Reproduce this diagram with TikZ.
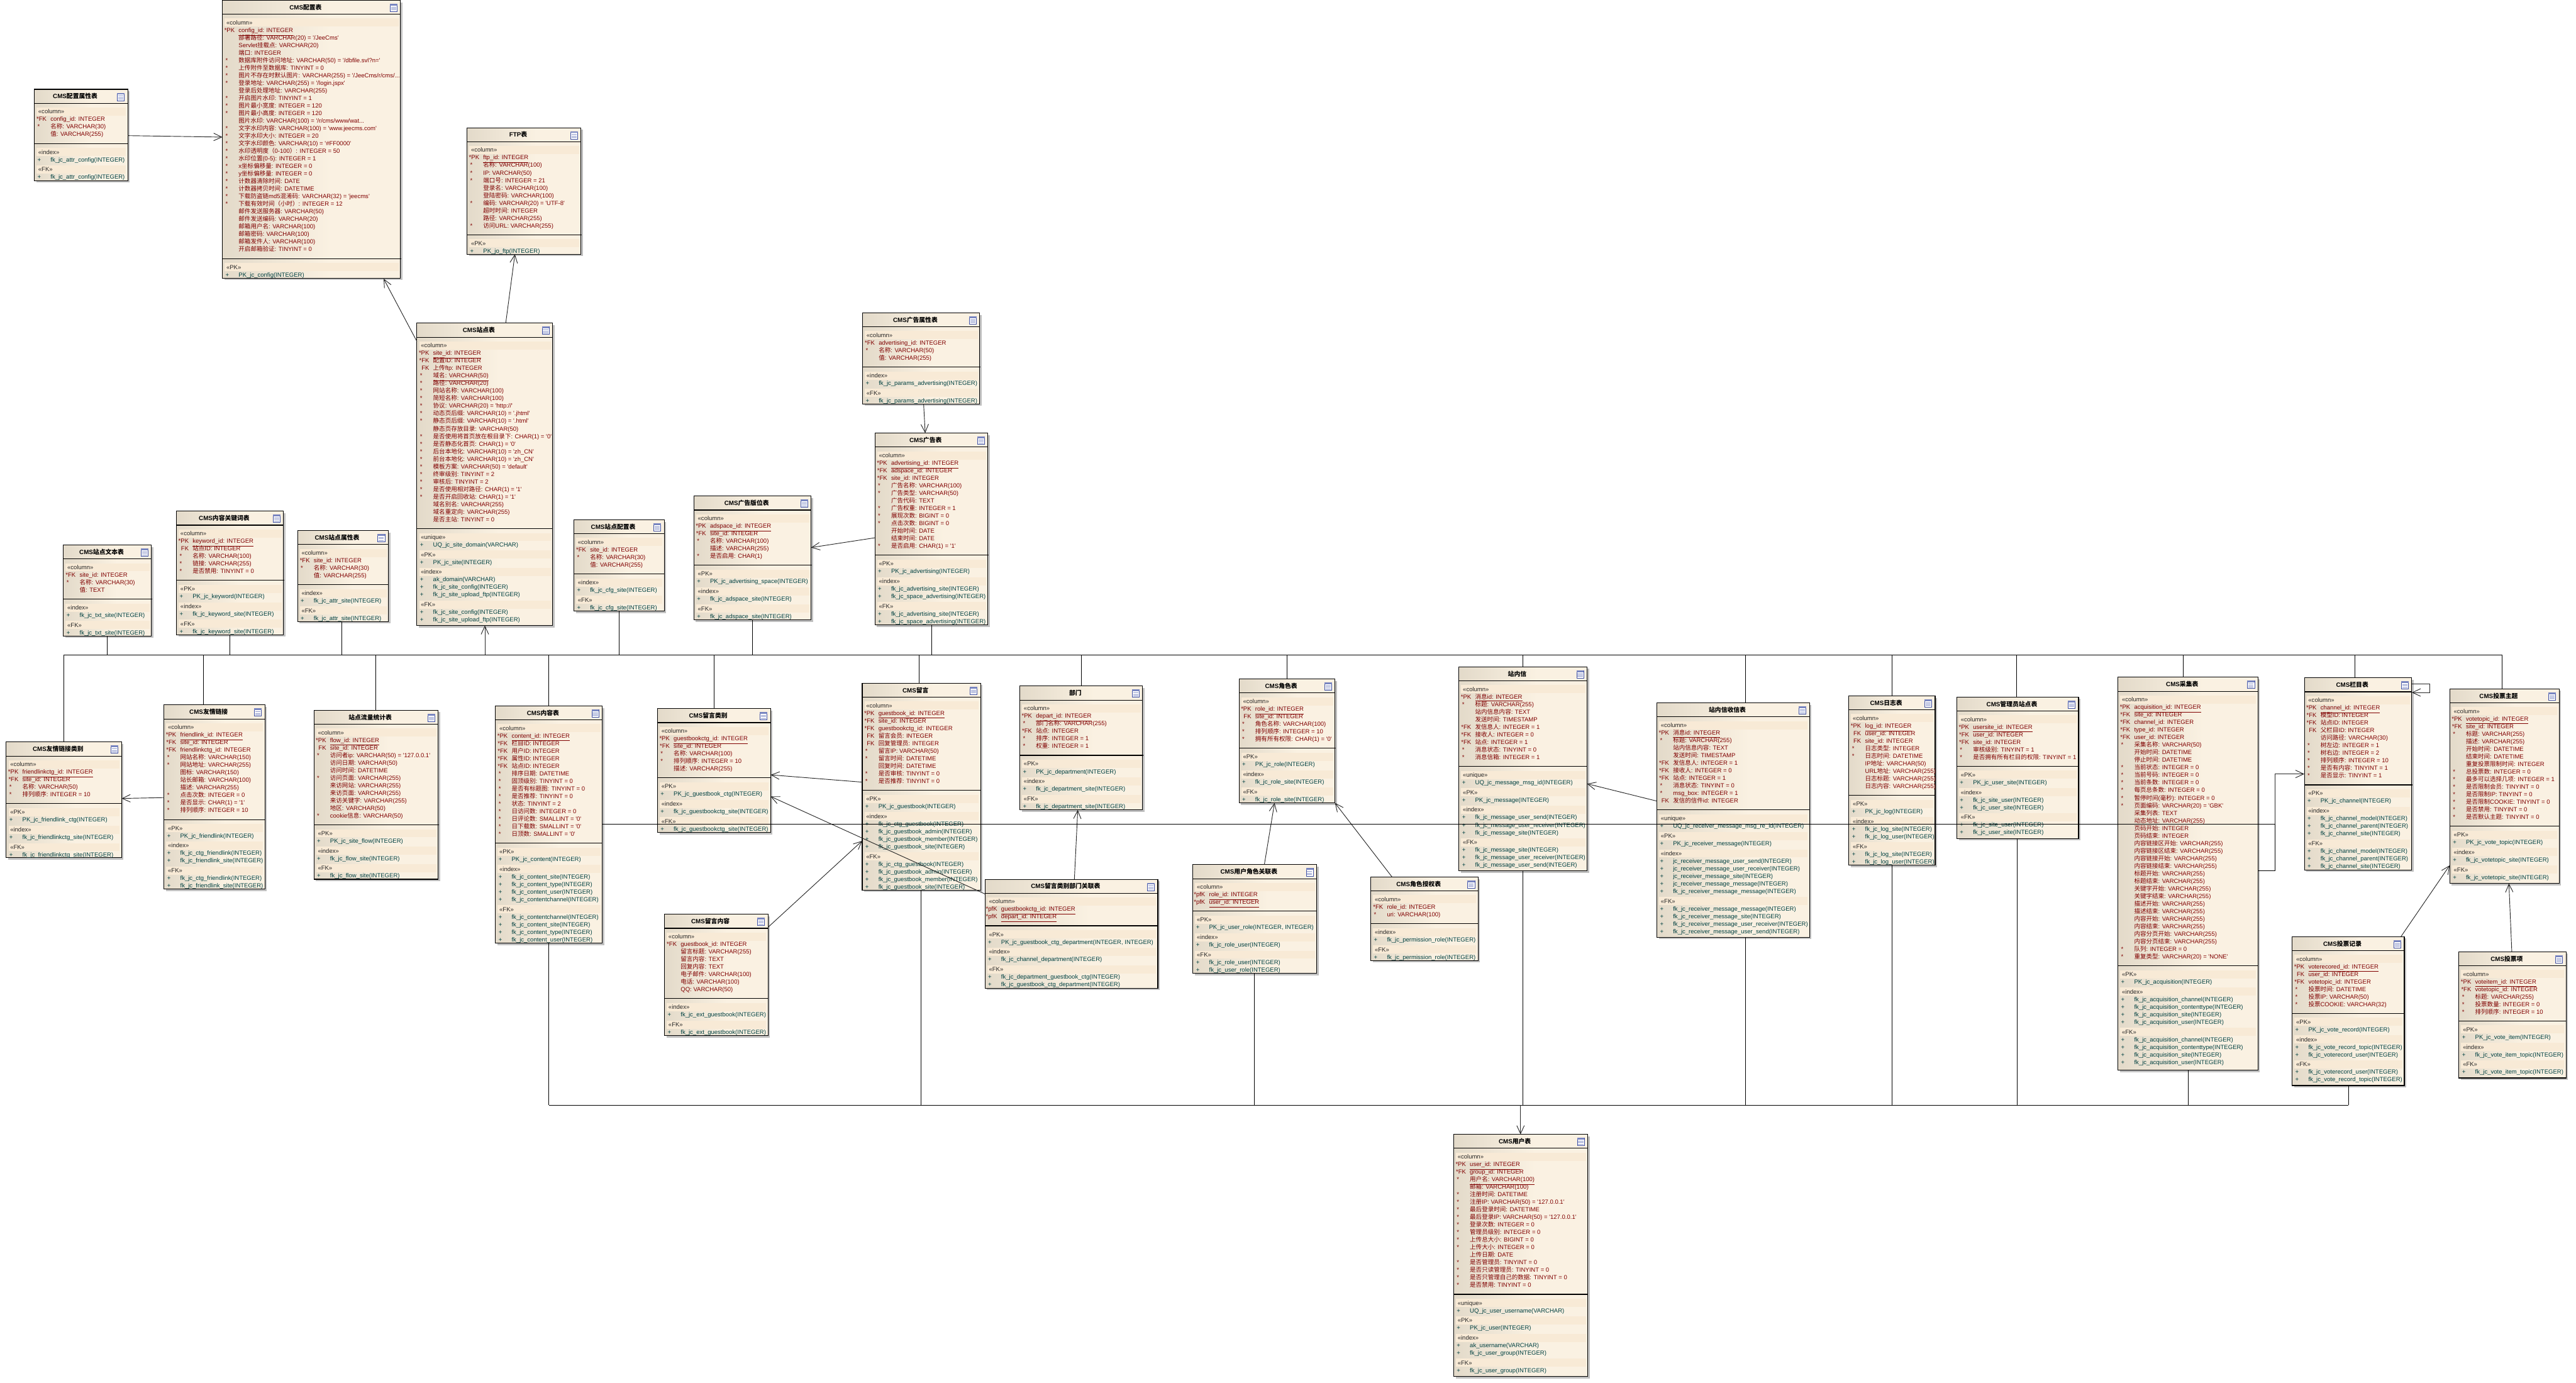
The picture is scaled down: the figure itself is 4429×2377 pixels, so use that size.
\documentclass[tikz,border=0pt]{standalone}
\usepackage{fontspec}
\usetikzlibrary{arrows.meta, shadows}
\setmainfont{Liberation Sans}[Ligatures=TeXOff]
\newfontfamily\cjkfont{Noto Sans CJK SC}
\XeTeXinterchartokenstate=1
\newcount\cjkc
\cjkc="3000 \loop \XeTeXcharclass\cjkc=250 \advance\cjkc 1 \ifnum\cjkc<"3040 \repeat
\cjkc="4E00 \loop \XeTeXcharclass\cjkc=250 \advance\cjkc 1 \ifnum\cjkc<"A000 \repeat
\cjkc="FF00 \loop \XeTeXcharclass\cjkc=250 \advance\cjkc 1 \ifnum\cjkc<"FFF0 \repeat
\XeTeXinterchartoks 0 250={\cjkfont}
\XeTeXinterchartoks 4095 250={\cjkfont}
\XeTeXinterchartoks 250 0={\rmfamily}
\XeTeXinterchartoks 4095 0={\rmfamily}
\definecolor{coltxt}{RGB}{128,0,0}
\definecolor{idxtxt}{RGB}{0,64,64}
\definecolor{bandfill}{RGB}{248,234,214}
\definecolor{shadowgray}{RGB}{192,192,192}
\definecolor{iconblue}{RGB}{62,80,165}
\pgfdeclarehorizontalshading{tableshade}{100bp}{rgb(0bp)=(0.89,0.855,0.79); rgb(25bp)=(0.89,0.855,0.79); rgb(55bp)=(0.98,0.945,0.885); rgb(100bp)=(0.98,0.945,0.885)}
\newcommand{\tablefont}{\fontsize{5.15pt}{6.5pt}\selectfont}
\newcount\rowno
\newcommand{\tbl}[6]{%
    \def\tblname{#1}\def\tblx{#2}\def\tblw{#4}\pgfmathsetmacro\rowy{#3+21.3}%
    \node[tablebox, minimum width=#4*0.5pt, minimum height=#5*0.5pt] (#1) at (#2,#3) {};
    \node[tabletitle] (#1-title) at ([shift={(-10,12)}]#1.north) {#6};
    \draw[tableline] ([yshift=-12pt]#1.north west) -- ([yshift=-12pt]#1.north east);
    \node[tableicon] (#1-icon) at ([shift={(-5.5,6)}]#1.north east) {};
    \fill[iconblue!70] (#1-icon.north west) rectangle ([shift={(0,3)}]#1-icon.north east);
    \foreach \k in {5.5,8,10.5} \draw[iconrule] ([shift={(2,\k)}]#1-icon.north west) -- ([shift={(-2,\k)}]#1-icon.north east);
}
\newcommand{\nextrow}{\pgfmathsetmacro\rowy{\rowy+13}\global\advance\rowno 1 }
\newcommand{\rowtext}[1]{\node[coltext] (\tblname-\the\rowno) at (\tblx+27.5,\rowy+3.7) {#1};}
\newcommand{\stereo}[1]{\pgfmathsetmacro\rowy{\rowy+17}\global\advance\rowno 1
    \node[stereoband, text width=\tblw*0.5pt-6.5pt] (\tblname-\the\rowno) at (\tblx+3.5,\rowy) {«#1»};}
\newcommand{\sepline}{\draw[tableline] (\tblx,\rowy+15.7) -- (\tblx+\tblw+1,\rowy+15.7); \pgfmathsetmacro\rowy{\rowy+13.4}}
\newcommand{\keyrow}[2]{\nextrow\node[keymark] (\tblname-m\the\rowno) at (\tblx+21.5,\rowy+3.7) {#1}; \rowtext{\underline{#2}}}
\newcommand{\fkrow}[2]{\nextrow\node[keymark] (\tblname-m\the\rowno) at (\tblx+21.5,\rowy+3.7) {#1}; \rowtext{#2}}
\newcommand{\reqrow}[1]{\nextrow\node[starmark] (\tblname-m\the\rowno) at (\tblx+5,\rowy+3.7) {*}; \rowtext{#1}}
\newcommand{\ulrow}[1]{\reqrow{\underline{#1}}}
\newcommand{\optrow}[1]{\nextrow\rowtext{#1}}
\newcommand{\idxrow}[1]{\nextrow\node[idxtext] (\tblname-m\the\rowno) at (\tblx+5,\rowy+3.7) {+}; \node[idxtext] (\tblname-\the\rowno) at (\tblx+27.5,\rowy+3.7) {#1};}
\catcode`\_=12
\begin{document}
\begin{tikzpicture}[
    x=0.5pt, y=-0.5pt,
    tablebox/.style={rectangle, draw=black, line width=0.6pt, shading=tableshade, anchor=north west, inner sep=0pt, outer sep=0pt, general shadow={fill=shadowgray, shadow xshift=1.7pt, shadow yshift=-1.7pt}},
    tabletitle/.style={font=\fontsize{5.3pt}{6.5pt}\selectfont\bfseries, inner sep=0pt},
    tableline/.style={draw=black, line width=0.6pt},
    tableicon/.style={rectangle, draw=iconblue, fill=white, line width=0.4pt, anchor=north east, inner sep=0pt, minimum width=6pt, minimum height=6.5pt},
    iconrule/.style={draw=iconblue!60, line width=0.3pt},
    stereoband/.style={rectangle, fill=bandfill, anchor=west, align=left, font=\tablefont, text=black!85, inner xsep=1.5pt, inner ysep=0pt, text height=5.35pt, text depth=1.65pt},
    coltext/.style={anchor=base west, inner sep=0pt, font=\tablefont, text=coltxt},
    keymark/.style={anchor=base east, inner sep=0pt, font=\tablefont, text=coltxt},
    starmark/.style={anchor=base west, inner sep=0pt, font=\tablefont, text=coltxt},
    idxtext/.style={anchor=base west, inner sep=0pt, font=\tablefont, text=idxtxt},
    bus/.style={draw=black, line width=0.5pt},
    fk/.style={->, >={Straight Barb[length=7pt,width=6.5pt]}, draw=black!85, line width=0.5pt}
]
\useasboundingbox (0,0) rectangle (4429,2377);

\tbl{cfgattr}{59}{153.6}{160.6}{156.8}{CMS配置属性表}
\stereo{column}
\fkrow{*FK}{config_id:  INTEGER}
\reqrow{名称:  VARCHAR(30)}
\optrow{值:  VARCHAR(255)}
\sepline
\stereo{index}
\idxrow{fk_jc_attr_config(INTEGER)}
\stereo{FK}
\idxrow{fk_jc_attr_config(INTEGER)}

\tbl{cfg}{382.4}{0.5}{306}{477.7}{CMS配置表}
\stereo{column}
\keyrow{*PK}{config_id:  INTEGER}
\optrow{部署路径:  VARCHAR(20) = '/JeeCms'}
\optrow{Servlet挂载点:  VARCHAR(20)}
\optrow{端口:  INTEGER}
\reqrow{数据库附件访问地址:  VARCHAR(50) = '/dbfile.svl?n='}
\reqrow{上传附件至数据库:  TINYINT = 0}
\reqrow{图片不存在时默认图片:  VARCHAR(255) = '/JeeCms/r/cms/...}
\reqrow{登录地址:  VARCHAR(255) = '/login.jspx'}
\optrow{登录后处理地址:  VARCHAR(255)}
\reqrow{开启图片水印:  TINYINT = 1}
\reqrow{图片最小宽度:  INTEGER = 120}
\reqrow{图片最小高度:  INTEGER = 120}
\optrow{图片水印:  VARCHAR(100) = '/r/cms/www/wat...}
\reqrow{文字水印内容:  VARCHAR(100) = 'www.jeecms.com'}
\reqrow{文字水印大小:  INTEGER = 20}
\reqrow{文字水印颜色:  VARCHAR(10) = '\#FF0000'}
\reqrow{水印透明度（0-100）:  INTEGER = 50}
\reqrow{水印位置(0-5):  INTEGER = 1}
\reqrow{x坐标偏移量:  INTEGER = 0}
\reqrow{y坐标偏移量:  INTEGER = 0}
\reqrow{计数器清除时间:  DATE}
\reqrow{计数器拷贝时间:  DATETIME}
\reqrow{下载防盗链md5混淆码:  VARCHAR(32) = 'jeecms'}
\reqrow{下载有效时间（小时）:  INTEGER = 12}
\optrow{邮件发送服务器:  VARCHAR(50)}
\optrow{邮件发送编码:  VARCHAR(20)}
\optrow{邮箱用户名:  VARCHAR(100)}
\optrow{邮箱密码:  VARCHAR(100)}
\optrow{邮箱发件人:  VARCHAR(100)}
\optrow{开启邮箱验证:  TINYINT = 0}
\sepline
\stereo{PK}
\idxrow{PK_jc_config(INTEGER)}

\tbl{ftp}{803}{219.6}{196}{217.4}{FTP表}
\stereo{column}
\keyrow{*PK}{ftp_id:  INTEGER}
\reqrow{名称:  VARCHAR(100)}
\reqrow{IP:  VARCHAR(50)}
\reqrow{端口号:  INTEGER = 21}
\optrow{登录名:  VARCHAR(100)}
\optrow{登陆密码:  VARCHAR(100)}
\reqrow{编码:  VARCHAR(20) = 'UTF-8'}
\optrow{超时时间:  INTEGER}
\optrow{路径:  VARCHAR(255)}
\reqrow{访问URL:  VARCHAR(255)}
\sepline
\stereo{PK}
\idxrow{PK_jo_ftp(INTEGER)}

\tbl{site}{716.8}{555.7}{233.1}{519.7}{CMS站点表}
\stereo{column}
\keyrow{*PK}{site_id:  INTEGER}
\fkrow{*FK}{配置ID:  INTEGER}
\fkrow{FK}{上传ftp:  INTEGER}
\ulrow{域名:  VARCHAR(50)}
\reqrow{路径:  VARCHAR(20)}
\reqrow{网站名称:  VARCHAR(100)}
\reqrow{简短名称:  VARCHAR(100)}
\reqrow{协议:  VARCHAR(20) = 'http://'}
\reqrow{动态页后缀:  VARCHAR(10) = '.jhtml'}
\reqrow{静态页后缀:  VARCHAR(10) = '.html'}
\optrow{静态页存放目录:  VARCHAR(50)}
\reqrow{是否使用将首页放在根目录下:  CHAR(1) = '0'}
\reqrow{是否静态化首页:  CHAR(1) = '0'}
\reqrow{后台本地化:  VARCHAR(10) = 'zh_CN'}
\reqrow{前台本地化:  VARCHAR(10) = 'zh_CN'}
\reqrow{模板方案:  VARCHAR(50) = 'default'}
\reqrow{终审级别:  TINYINT = 2}
\reqrow{审核后:  TINYINT = 2}
\reqrow{是否使用相对路径:  CHAR(1) = '1'}
\reqrow{是否开启回收站:  CHAR(1) = '1'}
\optrow{域名别名:  VARCHAR(255)}
\optrow{域名重定向:  VARCHAR(255)}
\optrow{是否主站:  TINYINT = 0}
\sepline
\stereo{unique}
\idxrow{UQ_jc_site_domain(VARCHAR)}
\stereo{PK}
\idxrow{PK_jc_site(INTEGER)}
\stereo{index}
\idxrow{ak_domain(VARCHAR)}
\idxrow{fk_jc_site_config(INTEGER)}
\idxrow{fk_jc_site_upload_ftp(INTEGER)}
\stereo{FK}
\idxrow{fk_jc_site_config(INTEGER)}
\idxrow{fk_jc_site_upload_ftp(INTEGER)}

\tbl{sitecfg}{986.7}{893.6}{155.3}{156.8}{CMS站点配置表}
\stereo{column}
\fkrow{*FK}{site_id:  INTEGER}
\reqrow{名称:  VARCHAR(30)}
\optrow{值:  VARCHAR(255)}
\sepline
\stereo{index}
\idxrow{fk_jc_cfg_site(INTEGER)}
\stereo{FK}
\idxrow{fk_jc_cfg_site(INTEGER)}

\tbl{adspace}{1193}{852.9}{201.5}{212.8}{CMS广告版位表}
\stereo{column}
\keyrow{*PK}{adspace_id:  INTEGER}
\fkrow{*FK}{site_id:  INTEGER}
\reqrow{名称:  VARCHAR(100)}
\optrow{描述:  VARCHAR(255)}
\reqrow{是否启用:  CHAR(1)}
\sepline
\stereo{PK}
\idxrow{PK_jc_advertising_space(INTEGER)}
\stereo{index}
\idxrow{fk_jc_adspace_site(INTEGER)}
\stereo{FK}
\idxrow{fk_jc_adspace_site(INTEGER)}

\tbl{adattr}{1483}{537.9}{201.5}{156.4}{CMS广告属性表}
\stereo{column}
\fkrow{*FK}{advertising_id:  INTEGER}
\reqrow{名称:  VARCHAR(50)}
\optrow{值:  VARCHAR(255)}
\sepline
\stereo{index}
\idxrow{fk_jc_params_advertising(INTEGER)}
\stereo{FK}
\idxrow{fk_jc_params_advertising(INTEGER)}

\tbl{ad}{1504.3}{744.6}{194.2}{329.7}{CMS广告表}
\stereo{column}
\keyrow{*PK}{advertising_id:  INTEGER}
\fkrow{*FK}{adspace_id:  INTEGER}
\fkrow{*FK}{site_id:  INTEGER}
\reqrow{广告名称:  VARCHAR(100)}
\reqrow{广告类型:  VARCHAR(50)}
\optrow{广告代码:  TEXT}
\reqrow{广告权重:  INTEGER = 1}
\reqrow{展现次数:  BIGINT = 0}
\reqrow{点击次数:  BIGINT = 0}
\optrow{开始时间:  DATE}
\optrow{结束时间:  DATE}
\reqrow{是否启用:  CHAR(1) = '1'}
\sepline
\stereo{PK}
\idxrow{PK_jc_advertising(INTEGER)}
\stereo{index}
\idxrow{fk_jc_advertising_site(INTEGER)}
\idxrow{fk_jc_space_advertising(INTEGER)}
\stereo{FK}
\idxrow{fk_jc_advertising_site(INTEGER)}
\idxrow{fk_jc_space_advertising(INTEGER)}

\tbl{sitetxt}{109}{937}{151.5}{156.3}{CMS站点文本表}
\stereo{column}
\fkrow{*FK}{site_id:  INTEGER}
\reqrow{名称:  VARCHAR(30)}
\optrow{值:  TEXT}
\sepline
\stereo{index}
\idxrow{fk_jc_txt_site(INTEGER)}
\stereo{FK}
\idxrow{fk_jc_txt_site(INTEGER)}

\tbl{keyword}{303.4}{878.9}{184.1}{212.4}{CMS内容关键词表}
\stereo{column}
\keyrow{*PK}{keyword_id:  INTEGER}
\fkrow{FK}{站点ID:  INTEGER}
\reqrow{名称:  VARCHAR(100)}
\reqrow{链接:  VARCHAR(255)}
\reqrow{是否禁用:  TINYINT = 0}
\sepline
\stereo{PK}
\idxrow{PK_jc_keyword(INTEGER)}
\stereo{index}
\idxrow{fk_jc_keyword_site(INTEGER)}
\stereo{FK}
\idxrow{fk_jc_keyword_site(INTEGER)}

\tbl{siteattr}{511.6}{912.2}{156}{156.2}{CMS站点属性表}
\stereo{column}
\fkrow{*FK}{site_id:  INTEGER}
\reqrow{名称:  VARCHAR(30)}
\optrow{值:  VARCHAR(255)}
\sepline
\stereo{index}
\idxrow{fk_jc_attr_site(INTEGER)}
\stereo{FK}
\idxrow{fk_jc_attr_site(INTEGER)}

\tbl{friendctg}{10.7}{1275.8}{198.3}{199}{CMS友情链接类别}
\stereo{column}
\keyrow{*PK}{friendlinkctg_id:  INTEGER}
\fkrow{*FK}{site_id:  INTEGER}
\reqrow{名称:  VARCHAR(50)}
\reqrow{排列顺序:  INTEGER = 10}
\sepline
\stereo{PK}
\idxrow{PK_jc_friendlink_ctg(INTEGER)}
\stereo{index}
\idxrow{fk_jc_friendlinkctg_site(INTEGER)}
\stereo{FK}
\idxrow{fk_jc_friendlinkctg_site(INTEGER)}

\tbl{friend}{282}{1212}{173.4}{316.5}{CMS友情链接}
\stereo{column}
\keyrow{*PK}{friendlink_id:  INTEGER}
\fkrow{*FK}{site_id:  INTEGER}
\fkrow{*FK}{friendlinkctg_id:  INTEGER}
\reqrow{网站名称:  VARCHAR(150)}
\reqrow{网站地址:  VARCHAR(255)}
\optrow{图标:  VARCHAR(150)}
\optrow{站长邮箱:  VARCHAR(100)}
\optrow{描述:  VARCHAR(255)}
\reqrow{点击次数:  INTEGER = 0}
\reqrow{是否显示:  CHAR(1) = '1'}
\reqrow{排列顺序:  INTEGER = 10}
\sepline
\stereo{PK}
\idxrow{PK_jc_friendlink(INTEGER)}
\stereo{index}
\idxrow{fk_jc_ctg_friendlink(INTEGER)}
\idxrow{fk_jc_friendlink_site(INTEGER)}
\stereo{FK}
\idxrow{fk_jc_ctg_friendlink(INTEGER)}
\idxrow{fk_jc_friendlink_site(INTEGER)}

\tbl{flow}{539.7}{1221}{213.7}{290.6}{站点流量统计表}
\stereo{column}
\keyrow{*PK}{flow_id:  INTEGER}
\fkrow{FK}{site_id:  INTEGER}
\reqrow{访问者ip:  VARCHAR(50) = '127.0.0.1'}
\optrow{访问日期:  VARCHAR(50)}
\optrow{访问时间:  DATETIME}
\reqrow{访问页面:  VARCHAR(255)}
\optrow{来访网站:  VARCHAR(255)}
\optrow{来访页面:  VARCHAR(255)}
\optrow{来访关键字:  VARCHAR(255)}
\optrow{地区:  VARCHAR(50)}
\reqrow{cookie信息:  VARCHAR(50)}
\sepline
\stereo{PK}
\idxrow{PK_jc_site_flow(INTEGER)}
\stereo{index}
\idxrow{fk_jc_flow_site(INTEGER)}
\stereo{FK}
\idxrow{fk_jc_flow_site(INTEGER)}

\tbl{content}{851.8}{1213.6}{183.5}{407.9}{CMS内容表}
\stereo{column}
\keyrow{*PK}{content_id:  INTEGER}
\fkrow{*FK}{栏目ID:  INTEGER}
\fkrow{*FK}{用户ID:  INTEGER}
\fkrow{*FK}{属性ID:  INTEGER}
\fkrow{*FK}{站点ID:  INTEGER}
\reqrow{排序日期:  DATETIME}
\reqrow{固顶级别:  TINYINT = 0}
\reqrow{是否有标题图:  TINYINT = 0}
\reqrow{是否推荐:  TINYINT = 0}
\reqrow{状态:  TINYINT = 2}
\reqrow{日访问数:  INTEGER = 0}
\reqrow{日评论数:  SMALLINT = '0'}
\reqrow{日下载数:  SMALLINT = '0'}
\reqrow{日顶数:  SMALLINT = '0'}
\sepline
\stereo{PK}
\idxrow{PK_jc_content(INTEGER)}
\stereo{index}
\idxrow{fk_jc_content_site(INTEGER)}
\idxrow{fk_jc_content_type(INTEGER)}
\idxrow{fk_jc_content_user(INTEGER)}
\idxrow{fk_jc_contentchannel(INTEGER)}
\stereo{FK}
\idxrow{fk_jc_contentchannel(INTEGER)}
\idxrow{fk_jc_content_site(INTEGER)}
\idxrow{fk_jc_content_type(INTEGER)}
\idxrow{fk_jc_content_user(INTEGER)}

\tbl{gbctg}{1130.4}{1218.4}{194.5}{212.9}{CMS留言类别}
\stereo{column}
\keyrow{*PK}{guestbookctg_id:  INTEGER}
\fkrow{*FK}{site_id:  INTEGER}
\reqrow{名称:  VARCHAR(100)}
\reqrow{排列顺序:  INTEGER = 10}
\optrow{描述:  VARCHAR(255)}
\sepline
\stereo{PK}
\idxrow{PK_jc_guestbook_ctg(INTEGER)}
\stereo{index}
\idxrow{fk_jc_guestbookctg_site(INTEGER)}
\stereo{FK}
\idxrow{fk_jc_guestbookctg_site(INTEGER)}

\tbl{gb}{1482.4}{1174.6}{203.4}{355.8}{CMS留言}
\stereo{column}
\keyrow{*PK}{guestbook_id:  INTEGER}
\fkrow{*FK}{site_id:  INTEGER}
\fkrow{*FK}{guestbookctg_id:  INTEGER}
\fkrow{FK}{留言会员:  INTEGER}
\fkrow{FK}{回复管理员:  INTEGER}
\reqrow{留言IP:  VARCHAR(50)}
\reqrow{留言时间:  DATETIME}
\optrow{回复时间:  DATETIME}
\reqrow{是否审核:  TINYINT = 0}
\reqrow{是否推荐:  TINYINT = 0}
\sepline
\stereo{PK}
\idxrow{PK_jc_guestbook(INTEGER)}
\stereo{index}
\idxrow{fk_jc_ctg_guestbook(INTEGER)}
\idxrow{fk_jc_guestbook_admin(INTEGER)}
\idxrow{fk_jc_guestbook_member(INTEGER)}
\idxrow{fk_jc_guestbook_site(INTEGER)}
\stereo{FK}
\idxrow{fk_jc_ctg_guestbook(INTEGER)}
\idxrow{fk_jc_guestbook_admin(INTEGER)}
\idxrow{fk_jc_guestbook_member(INTEGER)}
\idxrow{fk_jc_guestbook_site(INTEGER)}

\tbl{dept}{1753.4}{1179.6}{211.1}{212.9}{部门}
\stereo{column}
\keyrow{*PK}{depart_id:  INTEGER}
\reqrow{部门名称:  VARCHAR(255)}
\fkrow{*FK}{站点:  INTEGER}
\reqrow{排序:  INTEGER = 1}
\reqrow{权重:  INTEGER = 1}
\sepline
\stereo{PK}
\idxrow{PK_jc_department(INTEGER)}
\stereo{index}
\idxrow{fk_jc_department_site(INTEGER)}
\stereo{FK}
\idxrow{fk_jc_department_site(INTEGER)}

\tbl{gbext}{1142.5}{1572}{177.9}{208.4}{CMS留言内容}
\stereo{column}
\fkrow{*FK}{guestbook_id:  INTEGER}
\optrow{留言标题:  VARCHAR(255)}
\optrow{留言内容:  TEXT}
\optrow{回复内容:  TEXT}
\optrow{电子邮件:  VARCHAR(100)}
\optrow{电话:  VARCHAR(100)}
\optrow{QQ:  VARCHAR(50)}
\sepline
\stereo{index}
\idxrow{fk_jc_ext_guestbook(INTEGER)}
\stereo{FK}
\idxrow{fk_jc_ext_guestbook(INTEGER)}

\tbl{gbdept}{1693.5}{1511.7}{297.2}{187.1}{CMS留言类别部门关联表}
\stereo{column}
\keyrow{*pfK}{guestbookctg_id:  INTEGER}
\keyrow{*pfK}{depart_id:  INTEGER}
\sepline
\stereo{PK}
\idxrow{PK_jc_guestbook_ctg_department(INTEGER, INTEGER)}
\stereo{index}
\idxrow{fk_jc_channel_department(INTEGER)}
\stereo{FK}
\idxrow{fk_jc_department_guestbook_ctg(INTEGER)}
\idxrow{fk_jc_guestbook_ctg_department(INTEGER)}

\tbl{role}{2130.3}{1167.5}{164.9}{212.9}{CMS角色表}
\stereo{column}
\keyrow{*PK}{role_id:  INTEGER}
\fkrow{FK}{site_id:  INTEGER}
\reqrow{角色名称:  VARCHAR(100)}
\reqrow{排列顺序:  INTEGER = 10}
\reqrow{拥有所有权限:  CHAR(1) = '0'}
\sepline
\stereo{PK}
\idxrow{PK_jc_role(INTEGER)}
\stereo{index}
\idxrow{fk_jc_role_site(INTEGER)}
\stereo{FK}
\idxrow{fk_jc_role_site(INTEGER)}

\tbl{message}{2508.4}{1146.5}{220.3}{350.7}{站内信}
\stereo{column}
\keyrow{*PK}{消息id:  INTEGER}
\reqrow{标题:  VARCHAR(255)}
\optrow{站内信息内容:  TEXT}
\optrow{发送时间:  TIMESTAMP}
\fkrow{*FK}{发信息人:  INTEGER = 1}
\fkrow{*FK}{接收人:  INTEGER = 0}
\fkrow{*FK}{站点:  INTEGER = 1}
\reqrow{消息状态:  TINYINT = 0}
\reqrow{消息信箱:  INTEGER = 1}
\sepline
\stereo{unique}
\idxrow{UQ_jc_message_msg_id(INTEGER)}
\stereo{PK}
\idxrow{PK_jc_message(INTEGER)}
\stereo{index}
\idxrow{fk_jc_message_user_send(INTEGER)}
\idxrow{fk_jc_message_user_receiver(INTEGER)}
\idxrow{fk_jc_message_site(INTEGER)}
\stereo{FK}
\idxrow{fk_jc_message_site(INTEGER)}
\idxrow{fk_jc_message_user_receiver(INTEGER)}
\idxrow{fk_jc_message_user_send(INTEGER)}

\tbl{receiver}{2848.7}{1208.6}{262.3}{402.6}{站内信收信表}
\stereo{column}
\keyrow{*PK}{消息id:  INTEGER}
\reqrow{标题:  VARCHAR(255)}
\optrow{站内信息内容:  TEXT}
\optrow{发送时间:  TIMESTAMP}
\fkrow{*FK}{发信息人:  INTEGER = 1}
\fkrow{*FK}{接收人:  INTEGER = 0}
\fkrow{*FK}{站点:  INTEGER = 1}
\reqrow{消息状态:  TINYINT = 0}
\reqrow{msg_box:  INTEGER = 1}
\fkrow{FK}{发信的信件id:  INTEGER}
\sepline
\stereo{unique}
\idxrow{UQ_jc_receiver_message_msg_re_id(INTEGER)}
\stereo{PK}
\idxrow{PK_jc_receiver_message(INTEGER)}
\stereo{index}
\idxrow{jc_receiver_message_user_send(INTEGER)}
\idxrow{jc_receiver_message_user_receiver(INTEGER)}
\idxrow{jc_receiver_message_site(INTEGER)}
\idxrow{jc_receiver_message_message(INTEGER)}
\idxrow{fk_jc_receiver_message_message(INTEGER)}
\stereo{FK}
\idxrow{fk_jc_receiver_message_message(INTEGER)}
\idxrow{fk_jc_receiver_message_site(INTEGER)}
\idxrow{fk_jc_receiver_message_user_receiver(INTEGER)}
\idxrow{fk_jc_receiver_message_user_send(INTEGER)}

\tbl{userrole}{2051}{1486.7}{212.6}{187}{CMS用户角色关联表}
\stereo{column}
\keyrow{*pfK}{role_id:  INTEGER}
\keyrow{*pfK}{user_id:  INTEGER}
\sepline
\stereo{PK}
\idxrow{PK_jc_user_role(INTEGER, INTEGER)}
\stereo{index}
\idxrow{fk_jc_role_user(INTEGER)}
\stereo{FK}
\idxrow{fk_jc_role_user(INTEGER)}
\idxrow{fk_jc_user_role(INTEGER)}

\tbl{perm}{2356.9}{1507.8}{184.5}{143.4}{CMS角色授权表}
\stereo{column}
\fkrow{*FK}{role_id:  INTEGER}
\reqrow{uri:  VARCHAR(100)}
\sepline
\stereo{index}
\idxrow{fk_jc_permission_role(INTEGER)}
\stereo{FK}
\idxrow{fk_jc_permission_role(INTEGER)}

\tbl{log}{3178.8}{1196.4}{148.3}{291.3}{CMS日志表}
\stereo{column}
\keyrow{*PK}{log_id:  INTEGER}
\fkrow{FK}{user_id:  INTEGER}
\fkrow{FK}{site_id:  INTEGER}
\reqrow{日志类型:  INTEGER}
\reqrow{日志时间:  DATETIME}
\optrow{IP地址:  VARCHAR(50)}
\optrow{URL地址:  VARCHAR(255)}
\optrow{日志标题:  VARCHAR(255)}
\optrow{日志内容:  VARCHAR(255)}
\sepline
\stereo{PK}
\idxrow{PK_jc_log(INTEGER)}
\stereo{index}
\idxrow{fk_jc_log_site(INTEGER)}
\idxrow{fk_jc_log_user(INTEGER)}
\stereo{FK}
\idxrow{fk_jc_log_site(INTEGER)}
\idxrow{fk_jc_log_user(INTEGER)}

\tbl{usersite}{3364.4}{1198.3}{209.3}{243.4}{CMS管理员站点表}
\stereo{column}
\keyrow{*PK}{usersite_id:  INTEGER}
\fkrow{*FK}{user_id:  INTEGER}
\fkrow{*FK}{site_id:  INTEGER}
\reqrow{审核级别:  TINYINT = 1}
\reqrow{是否拥有所有栏目的权限:  TINYINT = 1}
\sepline
\stereo{PK}
\idxrow{PK_jc_user_site(INTEGER)}
\stereo{index}
\idxrow{fk_jc_site_user(INTEGER)}
\idxrow{fk_jc_user_site(INTEGER)}
\stereo{FK}
\idxrow{fk_jc_site_user(INTEGER)}
\idxrow{fk_jc_user_site(INTEGER)}

\tbl{acq}{3641.5}{1164.4}{240.7}{675.3}{CMS采集表}
\stereo{column}
\keyrow{*PK}{acquisition_id:  INTEGER}
\fkrow{*FK}{site_id:  INTEGER}
\fkrow{*FK}{channel_id:  INTEGER}
\fkrow{*FK}{type_id:  INTEGER}
\fkrow{*FK}{user_id:  INTEGER}
\reqrow{采集名称:  VARCHAR(50)}
\optrow{开始时间:  DATETIME}
\optrow{停止时间:  DATETIME}
\reqrow{当前状态:  INTEGER = 0}
\reqrow{当前号码:  INTEGER = 0}
\reqrow{当前条数:  INTEGER = 0}
\reqrow{每页总条数:  INTEGER = 0}
\reqrow{暂停时间(毫秒):  INTEGER = 0}
\reqrow{页面编码:  VARCHAR(20) = 'GBK'}
\optrow{采集列表:  TEXT}
\optrow{动态地址:  VARCHAR(255)}
\optrow{页码开始:  INTEGER}
\optrow{页码结束:  INTEGER}
\optrow{内容链接区开始:  VARCHAR(255)}
\optrow{内容链接区结束:  VARCHAR(255)}
\optrow{内容链接开始:  VARCHAR(255)}
\optrow{内容链接结束:  VARCHAR(255)}
\optrow{标题开始:  VARCHAR(255)}
\optrow{标题结束:  VARCHAR(255)}
\optrow{关键字开始:  VARCHAR(255)}
\optrow{关键字结束:  VARCHAR(255)}
\optrow{描述开始:  VARCHAR(255)}
\optrow{描述结束:  VARCHAR(255)}
\optrow{内容开始:  VARCHAR(255)}
\optrow{内容结束:  VARCHAR(255)}
\optrow{内容分页开始:  VARCHAR(255)}
\optrow{内容分页结束:  VARCHAR(255)}
\reqrow{队列:  INTEGER = 0}
\reqrow{重复类型:  VARCHAR(20) = 'NONE'}
\sepline
\stereo{PK}
\idxrow{PK_jc_acquisition(INTEGER)}
\stereo{index}
\idxrow{fk_jc_acquisition_channel(INTEGER)}
\idxrow{fk_jc_acquisition_contenttype(INTEGER)}
\idxrow{fk_jc_acquisition_site(INTEGER)}
\idxrow{fk_jc_acquisition_user(INTEGER)}
\stereo{FK}
\idxrow{fk_jc_acquisition_channel(INTEGER)}
\idxrow{fk_jc_acquisition_contenttype(INTEGER)}
\idxrow{fk_jc_acquisition_site(INTEGER)}
\idxrow{fk_jc_acquisition_user(INTEGER)}

\tbl{channel}{3961.9}{1165.4}{184.7}{330.1}{CMS栏目表}
\stereo{column}
\keyrow{*PK}{channel_id:  INTEGER}
\fkrow{*FK}{模型ID:  INTEGER}
\fkrow{*FK}{站点ID:  INTEGER}
\fkrow{FK}{父栏目ID:  INTEGER}
\optrow{访问路径:  VARCHAR(30)}
\reqrow{树左边:  INTEGER = 1}
\reqrow{树右边:  INTEGER = 2}
\reqrow{排列顺序:  INTEGER = 10}
\reqrow{是否有内容:  TINYINT = 1}
\reqrow{是否显示:  TINYINT = 1}
\sepline
\stereo{PK}
\idxrow{PK_jc_channel(INTEGER)}
\stereo{index}
\idxrow{fk_jc_channel_model(INTEGER)}
\idxrow{fk_jc_channel_parent(INTEGER)}
\idxrow{fk_jc_channel_site(INTEGER)}
\stereo{FK}
\idxrow{fk_jc_channel_model(INTEGER)}
\idxrow{fk_jc_channel_parent(INTEGER)}
\idxrow{fk_jc_channel_site(INTEGER)}

\tbl{votetopic}{4211.9}{1184.3}{188.1}{334.5}{CMS投票主题}
\stereo{column}
\keyrow{*PK}{votetopic_id:  INTEGER}
\fkrow{*FK}{site_id:  INTEGER}
\reqrow{标题:  VARCHAR(255)}
\optrow{描述:  VARCHAR(255)}
\optrow{开始时间:  DATETIME}
\optrow{结束时间:  DATETIME}
\optrow{重复投票限制时间:  INTEGER}
\reqrow{总投票数:  INTEGER = 0}
\reqrow{最多可以选择几项:  INTEGER = 1}
\reqrow{是否限制会员:  TINYINT = 0}
\reqrow{是否限制IP:  TINYINT = 0}
\reqrow{是否限制COOKIE:  TINYINT = 0}
\reqrow{是否禁用:  TINYINT = 0}
\reqrow{是否默认主题:  TINYINT = 0}
\sepline
\stereo{PK}
\idxrow{PK_jc_vote_topic(INTEGER)}
\stereo{index}
\idxrow{fk_jc_votetopic_site(INTEGER)}
\stereo{FK}
\idxrow{fk_jc_votetopic_site(INTEGER)}

\tbl{voterec}{3941}{1610.3}{192.7}{256}{CMS投票记录}
\stereo{column}
\keyrow{*PK}{voterecored_id:  INTEGER}
\fkrow{FK}{user_id:  INTEGER}
\fkrow{*FK}{votetopic_id:  INTEGER}
\reqrow{投票时间:  DATETIME}
\reqrow{投票IP:  VARCHAR(50)}
\reqrow{投票COOKIE:  VARCHAR(32)}
\sepline
\stereo{PK}
\idxrow{PK_jc_vote_record(INTEGER)}
\stereo{index}
\idxrow{fk_jc_vote_record_topic(INTEGER)}
\idxrow{fk_jc_voterecord_user(INTEGER)}
\stereo{FK}
\idxrow{fk_jc_voterecord_user(INTEGER)}
\idxrow{fk_jc_vote_record_topic(INTEGER)}

\tbl{voteitem}{4227.7}{1636.3}{184.3}{217}{CMS投票项}
\stereo{column}
\keyrow{*PK}{voteitem_id:  INTEGER}
\fkrow{*FK}{votetopic_id:  INTEGER}
\reqrow{标题:  VARCHAR(255)}
\reqrow{投票数量:  INTEGER = 0}
\reqrow{排列顺序:  INTEGER = 10}
\sepline
\stereo{PK}
\idxrow{PK_jc_vote_item(INTEGER)}
\stereo{index}
\idxrow{fk_jc_vote_item_topic(INTEGER)}
\stereo{FK}
\idxrow{fk_jc_vote_item_topic(INTEGER)}

\tbl{user}{2499.3}{1950.3}{230.4}{416}{CMS用户表}
\stereo{column}
\keyrow{*PK}{user_id:  INTEGER}
\fkrow{*FK}{group_id:  INTEGER}
\ulrow{用户名:  VARCHAR(100)}
\optrow{邮箱:  VARCHAR(100)}
\reqrow{注册时间:  DATETIME}
\reqrow{注册IP:  VARCHAR(50) = '127.0.0.1'}
\reqrow{最后登录时间:  DATETIME}
\reqrow{最后登录IP:  VARCHAR(50) = '127.0.0.1'}
\reqrow{登录次数:  INTEGER = 0}
\reqrow{管理员级别:  INTEGER = 0}
\reqrow{上传总大小:  BIGINT = 0}
\reqrow{上传大小:  INTEGER = 0}
\optrow{上传日期:  DATE}
\reqrow{是否管理员:  TINYINT = 0}
\reqrow{是否只读管理员:  TINYINT = 0}
\reqrow{是否只管理自己的数据:  TINYINT = 0}
\reqrow{是否禁用:  TINYINT = 0}
\sepline
\stereo{unique}
\idxrow{UQ_jc_user_username(VARCHAR)}
\stereo{PK}
\idxrow{PK_jc_user(INTEGER)}
\stereo{index}
\idxrow{ak_username(VARCHAR)}
\idxrow{fk_jc_user_group(INTEGER)}
\stereo{FK}
\idxrow{fk_jc_user_group(INTEGER)}

\coordinate (topbus) at (0,1126);
\coordinate (lowbus) at (0,1900);
\coordinate (chanturn) at (3911,1417);

\draw[fk] ([shift={(0,79.6)}]cfgattr.north east) -- ([shift={(0,235.2)}]cfg.north west);
\draw[fk] ([shift={(0,31.3)}]site.north west) -- ([shift={(277.2,1)}]cfg.south west);
\draw[fk] ([shift={(152.7,0)}]site.north west) -- ([shift={(82.3,0)}]ftp.south west);
\draw[fk] ([shift={(105,0)}]adattr.south west) -- ([shift={(86.4,0)}]ad.north west);
\draw[fk] ([shift={(0,180)}]ad.north west) -- ([shift={(0,88.5)}]adspace.north east);
\draw[fk] ([shift={(0,159.3)}]friend.north west) -- ([shift={(0,97)}]friendctg.north east);
\draw[fk] ([shift={(0,170.1)}]gb.north west) -- ([shift={(0,113.8)}]gbctg.north east);
\draw[fk] ([shift={(0,25.3)}]gbdept.north west) -- ([shift={(0,150.9)}]gbctg.north east);
\draw[fk] ([shift={(0,22.3)}]gbext.north east) -- ([shift={(0,271)}]gb.north west);
\draw[fk] ([shift={(153.7,0)}]gbdept.north west) -- ([shift={(99.6,0)}]dept.south west);
\draw[fk] ([shift={(122.8,0)}]userrole.north west) -- ([shift={(61,0)}]role.south west);
\draw[fk] ([shift={(36.5,0)}]perm.north west) -- (role.south east);
\draw[fk] ([shift={(0,168.7)}]receiver.north west) -- ([shift={(0,201)}]message.north east);
\draw[fk] ([shift={(187,0)}]voterec.north west) -- ([shift={(0,303.4)}]votetopic.north west);
\draw[fk] ([shift={(90.9,0)}]voteitem.north west) -- ([shift={(101.7,0)}]votetopic.south west);
\draw[fk] ([shift={(0,10.2)}]channel.north east) -- ++(31.4,0) -- ++(0,15) -- ([shift={(0,25.2)}]channel.north east);

\draw[bus] ([shift={(0,203.4)}]content.north east) -- (chanturn);
\draw[fk] (chanturn) |- ([shift={(0,165.3)}]channel.north west);
\draw[bus] ([shift={(0,333)}]acq.north east) -| (chanturn);

\draw[bus] ([shift={(98.5,0)}]friendctg.north west |- topbus) -- ([shift={(89.8,0)}]votetopic.north west |- topbus);
\draw[bus] ([shift={(75,0)}]sitetxt.south west) -- ([shift={(75,0)}]sitetxt.south west |- topbus);
\draw[bus] ([shift={(91.6,0)}]keyword.south west) -- ([shift={(91.6,0)}]keyword.south west |- topbus);
\draw[bus] ([shift={(75.7,0)}]siteattr.south west) -- ([shift={(75.7,0)}]siteattr.south west |- topbus);
\draw[bus] ([shift={(77.7,0)}]sitecfg.south west) -- ([shift={(77.7,0)}]sitecfg.south west |- topbus);
\draw[bus] ([shift={(100.4,0)}]adspace.south west) -- ([shift={(100.4,0)}]adspace.south west |- topbus);
\draw[bus] ([shift={(97.2,0)}]ad.south west) -- ([shift={(97.2,0)}]ad.south west |- topbus);
\draw[fk] ([shift={(116.9,0)}]site.south west |- topbus) -- ([shift={(116.9,0)}]site.south west);
\draw[bus] ([shift={(98.5,0)}]friendctg.north west) -- ([shift={(98.5,0)}]friendctg.north west |- topbus);
\draw[bus] ([shift={(68.2,0)}]friend.north west) -- ([shift={(68.2,0)}]friend.north west |- topbus);
\draw[bus] ([shift={(106.5,0)}]flow.north west) -- ([shift={(106.5,0)}]flow.north west |- topbus);
\draw[bus] ([shift={(91.7,0)}]content.north west) -- ([shift={(91.7,0)}]content.north west |- topbus);
\draw[bus] ([shift={(96.9,0)}]gbctg.north west) -- ([shift={(96.9,0)}]gbctg.north west |- topbus);
\draw[bus] ([shift={(98.2,0)}]gb.north west) -- ([shift={(98.2,0)}]gb.north west |- topbus);
\draw[bus] ([shift={(105.9,0)}]dept.north west) -- ([shift={(105.9,0)}]dept.north west |- topbus);
\draw[bus] ([shift={(82.1,0)}]role.north west) -- ([shift={(82.1,0)}]role.north west |- topbus);
\draw[bus] ([shift={(110.2,0)}]message.north west) -- ([shift={(110.2,0)}]message.north west |- topbus);
\draw[bus] ([shift={(151.9,0)}]receiver.north west) -- ([shift={(151.9,0)}]receiver.north west |- topbus);
\draw[bus] ([shift={(73.7,0)}]log.north west) -- ([shift={(73.7,0)}]log.north west |- topbus);
\draw[bus] ([shift={(102.6,0)}]usersite.north west) -- ([shift={(102.6,0)}]usersite.north west |- topbus);
\draw[bus] ([shift={(111.9,0)}]acq.north west) -- ([shift={(111.9,0)}]acq.north west |- topbus);
\draw[bus] ([shift={(87.1,0)}]channel.north west) -- ([shift={(87.1,0)}]channel.north west |- topbus);
\draw[bus] ([shift={(89.8,0)}]votetopic.north west) -- ([shift={(89.8,0)}]votetopic.north west |- topbus);

\draw[bus] ([shift={(91.7,0)}]content.south west |- lowbus) -- ([shift={(97,0)}]voterec.south west |- lowbus);
\draw[bus] ([shift={(91.7,0)}]content.south west) -- ([shift={(91.7,0)}]content.south west |- lowbus);
\draw[bus] ([shift={(100.8,0)}]gb.south west) -- ([shift={(100.8,0)}]gb.south west |- lowbus);
\draw[bus] ([shift={(106,0)}]userrole.south west) -- ([shift={(106,0)}]userrole.south west |- lowbus);
\draw[bus] ([shift={(110.2,0)}]message.south west) -- ([shift={(110.2,0)}]message.south west |- lowbus);
\draw[bus] ([shift={(151.9,0)}]receiver.south west) -- ([shift={(151.9,0)}]receiver.south west |- lowbus);
\draw[bus] ([shift={(73.7,0)}]log.south west) -- ([shift={(73.7,0)}]log.south west |- lowbus);
\draw[bus] ([shift={(103.4,0)}]usersite.south west) -- ([shift={(103.4,0)}]usersite.south west |- lowbus);
\draw[bus] ([shift={(120.5,0)}]acq.south west) -- ([shift={(120.5,0)}]acq.south west |- lowbus);
\draw[bus] ([shift={(97,0)}]voterec.south west) -- ([shift={(97,0)}]voterec.south west |- lowbus);
\draw[fk] ([shift={(115,0)}]user.north west |- lowbus) -- ([shift={(115,0)}]user.north west);

\end{tikzpicture}
\end{document}
